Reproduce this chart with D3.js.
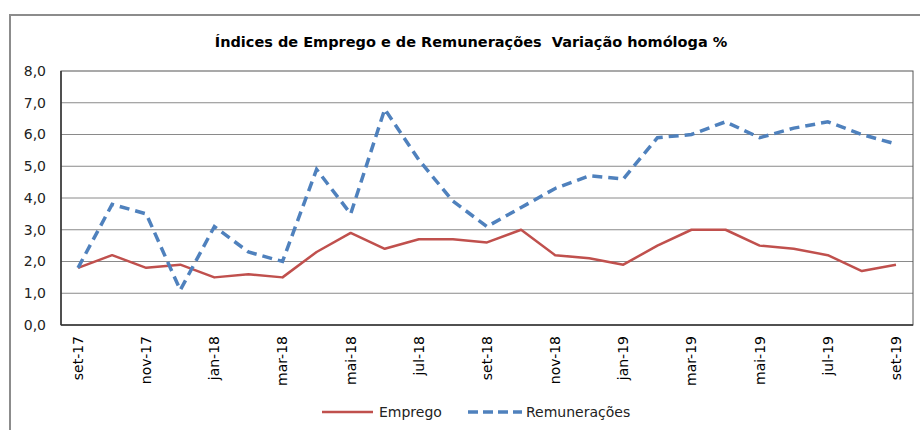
<!DOCTYPE html>
<html><head><meta charset="utf-8">
<script src="https://cdn.jsdelivr.net/npm/d3@7"></script>
<style>body{margin:0;background:#fff}svg{display:block;font-family:"DejaVu Sans",Verdana,sans-serif}</style>
</head><body><svg id="c" width="920" height="430"></svg>
<script>
const months = ["set-17","out-17","nov-17","dez-17","jan-18","fev-18","mar-18","abr-18","mai-18","jun-18","jul-18","ago-18","set-18","out-18","nov-18","dez-18","jan-19","fev-19","mar-19","abr-19","mai-19","jun-19","jul-19","ago-19","set-19"];
const emprego = [1.8,2.2,1.8,1.9,1.5,1.6,1.5,2.3,2.9,2.4,2.7,2.7,2.6,3.0,2.2,2.1,1.9,2.5,3.0,3.0,2.5,2.4,2.2,1.7,1.9];
const remuneracoes = [1.8,3.8,3.5,1.1,3.1,2.3,2.0,4.9,3.5,6.8,5.2,3.9,3.1,3.7,4.3,4.7,4.6,5.9,6.0,6.4,5.9,6.2,6.4,6.0,5.7];
const yTicks = [0,1,2,3,4,5,6,7,8];
const title = "Índices de Emprego e de Remunerações  Variação homóloga %";
const seriesNames = ["Emprego","Remunerações"];

const svg = d3.select("#c");
const L=61,R=913,T=71,B=325;
svg.append("path").attr("d","M10,430V15H920").attr("fill","none").attr("stroke","#8c8c8c").attr("stroke-width",2);
svg.append("text").attr("x",471).attr("y",47).attr("text-anchor","middle").attr("font-weight","bold").attr("font-size",14.5)
  .style("white-space","pre").attr("fill","#000").text(title);

const x = d3.scaleBand().domain(months).range([L,R]);
const y = d3.scaleLinear().domain([0,8]).range([B,T]);
const fmt = d=>d3.format(".1f")(d).replace(".",",");

svg.append("g").selectAll("line").data(yTicks.filter(d=>d>0&&d<8)).join("line")
  .attr("x1",L).attr("x2",R).attr("y1",d=>y(d)).attr("y2",d=>y(d)).attr("stroke","#8a8a8a").attr("stroke-width",1);
svg.append("rect").attr("x",L).attr("y",T).attr("width",R-L).attr("height",B-T).attr("fill","none").attr("stroke","#555").attr("stroke-width",1);
svg.append("line").attr("x1",L).attr("x2",L).attr("y1",T).attr("y2",B).attr("stroke","#333").attr("stroke-width",1.5);
svg.append("line").attr("x1",L).attr("x2",R).attr("y1",B).attr("y2",B).attr("stroke","#333").attr("stroke-width",1.5);

const ya = d3.axisLeft(y).tickValues(yTicks).tickFormat(fmt).tickSize(0).tickPadding(15);
svg.append("g").attr("transform",`translate(${L},0)`).call(ya)
  .call(g=>g.select(".domain").remove())
  .call(g=>g.selectAll("text").attr("font-size",14).attr("fill","#222").attr("font-family","DejaVu Sans, Verdana, sans-serif"));

const xa = d3.axisBottom(x).tickValues(months.filter((d,i)=>i%2===0)).tickSize(0).tickPadding(0);
svg.append("g").attr("transform",`translate(0,${B})`).call(xa)
  .call(g=>g.select(".domain").remove())
  .call(g=>g.selectAll("text").attr("font-size",14).attr("fill","#000").attr("font-family","DejaVu Sans, Verdana, sans-serif")
     .attr("transform","rotate(-90)").attr("text-anchor","end").attr("dx","-11px").attr("dy","0.35em").attr("y",0).attr("x",0));

const line = d3.line().x((d,i)=>x(months[i])+x.bandwidth()/2).y(d=>y(d));
svg.append("path").datum(emprego).attr("d",line).attr("fill","none").attr("stroke","#C0504D").attr("stroke-width",2.5).attr("stroke-linejoin","round");
svg.append("path").datum(remuneracoes).attr("d",line).attr("fill","none").attr("stroke","#4F81BD").attr("stroke-width",3.5).attr("stroke-dasharray","10,6");

const lg = svg.append("g").attr("font-size",14);
lg.append("line").attr("x1",322).attr("x2",373).attr("y1",412).attr("y2",412).attr("stroke","#C0504D").attr("stroke-width",2.5);
lg.append("text").attr("x",379).attr("y",417).attr("fill","#222").text(seriesNames[0]);
lg.append("line").attr("x1",468).attr("x2",522).attr("y1",412).attr("y2",412).attr("stroke","#4F81BD").attr("stroke-width",3.5).attr("stroke-dasharray","10,5");
lg.append("text").attr("x",526).attr("y",417).attr("fill","#222").text(seriesNames[1]);
</script></body></html>
